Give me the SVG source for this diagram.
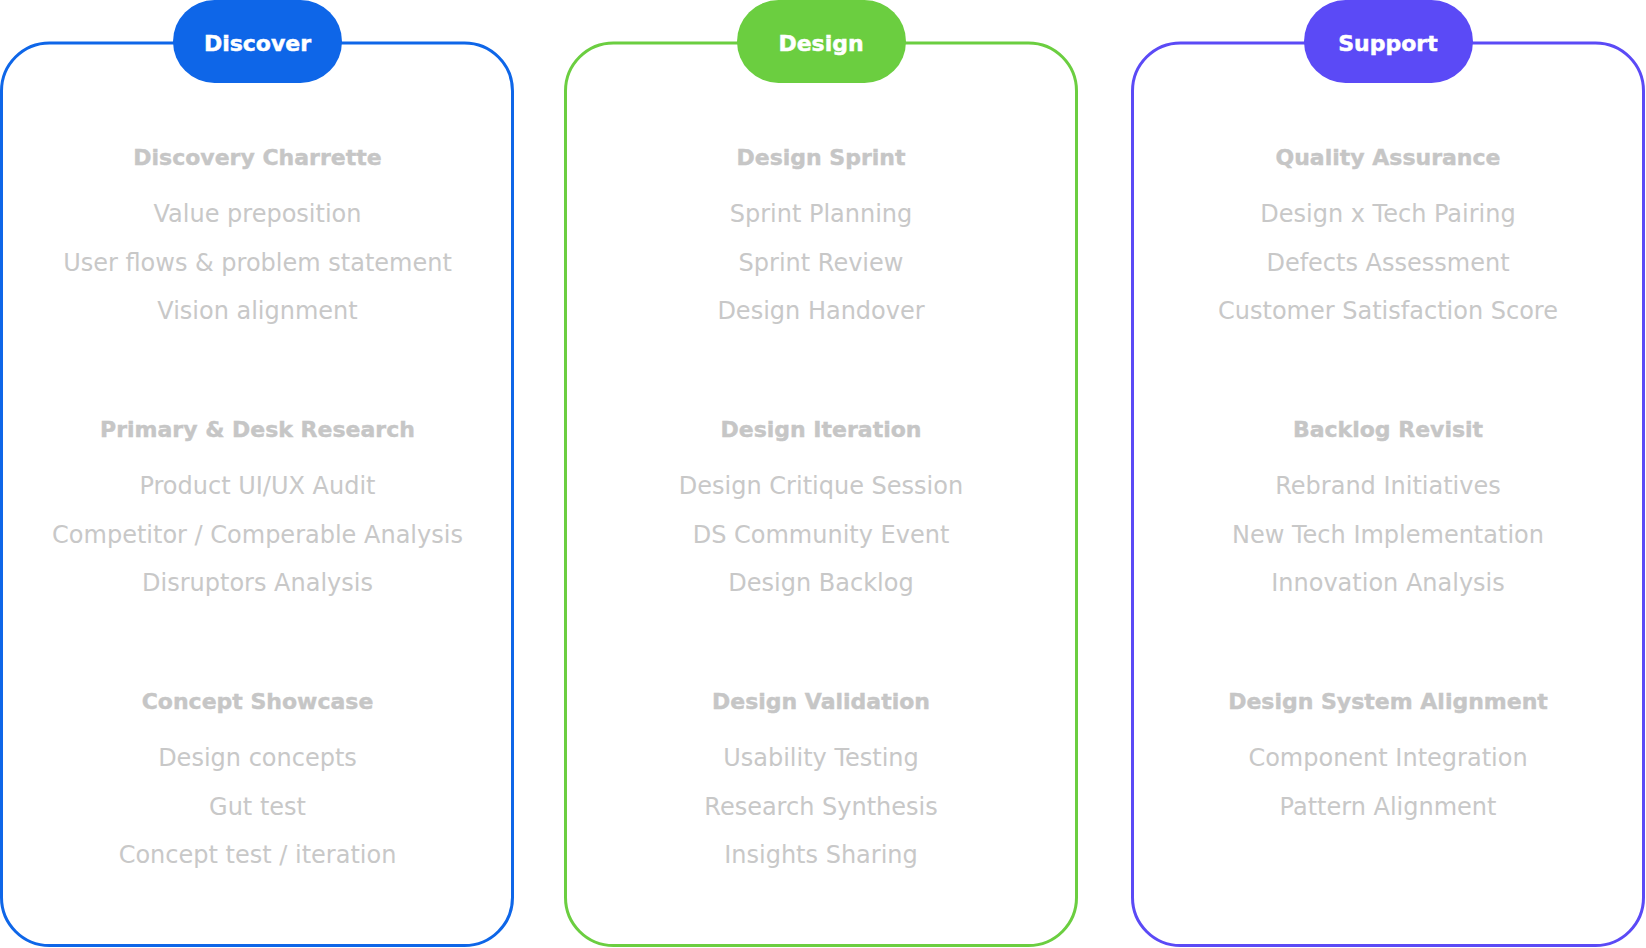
<svg xmlns="http://www.w3.org/2000/svg" width="1646" height="948" viewBox="0 0 1646 948">
  <style>
    .card { fill: #ffffff; stroke-width: 3; }
    .badge-text { font-family: "DejaVu Sans", "Liberation Sans", sans-serif; font-weight: bold; font-size: 22px; fill: #ffffff; stroke: #ffffff; stroke-width: 0.5; text-anchor: middle; }
    .head { font-family: "DejaVu Sans", "Liberation Sans", sans-serif; font-weight: bold; font-size: 22px; fill: #c6c6c6; stroke: #c6c6c6; stroke-width: 0.4; text-anchor: middle; }
    .item { font-family: "DejaVu Sans", "Liberation Sans", sans-serif; font-size: 24px; fill: #c8c8c8; text-anchor: middle; }
    .blue { stroke: #0e66e8; }
    .green { stroke: #6bce40; }
    .purple { stroke: #5b4af6; }
  </style>
  <rect width="1646" height="948" fill="#ffffff"/>

  <!-- Discover column -->
  <g id="discover">
    <rect class="card blue" x="1.5" y="43" width="511" height="902.5" rx="48"/>
    <rect x="173" y="0" width="169" height="83" rx="41.5" fill="#0e66e8"/>
    <text class="badge-text" x="257.5" y="51">Discover</text>

    <text class="head" x="257.5" y="164.5">Discovery Charrette</text>
    <text class="item" x="257.5" y="222">Value preposition</text>
    <text class="item" x="257.5" y="270.5">User flows &amp; problem statement</text>
    <text class="item" x="257.5" y="319">Vision alignment</text>

    <text class="head" x="257.5" y="436.5">Primary &amp; Desk Research</text>
    <text class="item" x="257.5" y="494">Product UI/UX Audit</text>
    <text class="item" x="257.5" y="542.5">Competitor / Comperable Analysis</text>
    <text class="item" x="257.5" y="591">Disruptors Analysis</text>

    <text class="head" x="257.5" y="708.5">Concept Showcase</text>
    <text class="item" x="257.5" y="766">Design concepts</text>
    <text class="item" x="257.5" y="814.5">Gut test</text>
    <text class="item" x="257.5" y="863">Concept test / iteration</text>
  </g>

  <!-- Design column -->
  <g id="design">
    <rect class="card green" x="565.5" y="43" width="511" height="902.5" rx="48"/>
    <rect x="737" y="0" width="169" height="83" rx="41.5" fill="#6bce40"/>
    <text class="badge-text" x="821" y="51">Design</text>

    <text class="head" x="821" y="164.5">Design Sprint</text>
    <text class="item" x="821" y="222">Sprint Planning</text>
    <text class="item" x="821" y="270.5">Sprint Review</text>
    <text class="item" x="821" y="319">Design Handover</text>

    <text class="head" x="821" y="436.5">Design Iteration</text>
    <text class="item" x="821" y="494">Design Critique Session</text>
    <text class="item" x="821" y="542.5">DS Community Event</text>
    <text class="item" x="821" y="591">Design Backlog</text>

    <text class="head" x="821" y="708.5">Design Validation</text>
    <text class="item" x="821" y="766">Usability Testing</text>
    <text class="item" x="821" y="814.5">Research Synthesis</text>
    <text class="item" x="821" y="863">Insights Sharing</text>
  </g>

  <!-- Support column -->
  <g id="support">
    <rect class="card purple" x="1132.5" y="43" width="511" height="902.5" rx="48"/>
    <rect x="1304" y="0" width="169" height="83" rx="41.5" fill="#5b4af6"/>
    <text class="badge-text" x="1388" y="51">Support</text>

    <text class="head" x="1388" y="164.5">Quality Assurance</text>
    <text class="item" x="1388" y="222">Design x Tech Pairing</text>
    <text class="item" x="1388" y="270.5">Defects Assessment</text>
    <text class="item" x="1388" y="319">Customer Satisfaction Score</text>

    <text class="head" x="1388" y="436.5">Backlog Revisit</text>
    <text class="item" x="1388" y="494">Rebrand Initiatives</text>
    <text class="item" x="1388" y="542.5">New Tech Implementation</text>
    <text class="item" x="1388" y="591">Innovation Analysis</text>

    <text class="head" x="1388" y="708.5">Design System Alignment</text>
    <text class="item" x="1388" y="766">Component Integration</text>
    <text class="item" x="1388" y="814.5">Pattern Alignment</text>
  </g>
</svg>
